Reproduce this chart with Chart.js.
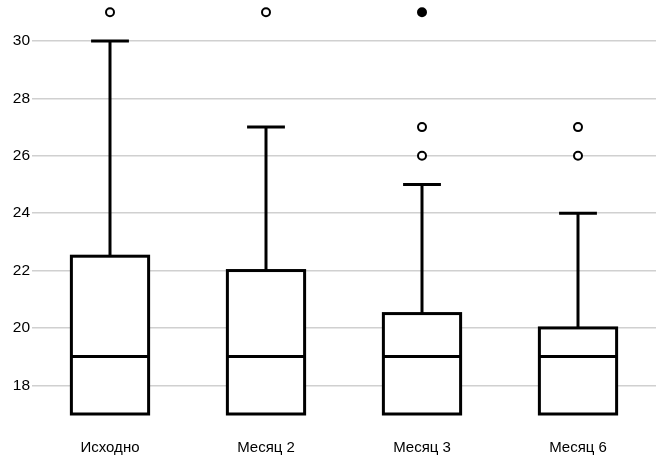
<!DOCTYPE html>
<html>
<head>
<meta charset="utf-8">
<script src="https://cdn.jsdelivr.net/npm/chart.js@4/dist/chart.umd.min.js"></script>
<style>
html,body{margin:0;padding:0;background:#fff;}
#wrap{width:663px;height:456px;position:relative;}
</style>
</head>
<body>
<div id="wrap"><canvas id="c"></canvas></div>
<script>
const categories = ['Исходно', 'Месяц 2', 'Месяц 3', 'Месяц 6'];
const whiskerLow = [17, 17, 17, 17];
const q1 = [17, 17, 17, 17];
const median = [19, 19, 19, 19];
const q3 = [22.5, 22, 20.5, 20];
const whiskerHigh = [30, 27, 25, 24];
const outlierCategory = ['Исходно', 'Месяц 2', 'Месяц 3', 'Месяц 3', 'Месяц 3', 'Месяц 6', 'Месяц 6'];
const outlierValue = [31, 31, 31, 27, 26, 27, 26];
const outlierFilled = [false, false, true, false, false, false, false];
const yTicks = [18, 20, 22, 24, 26, 28, 30];

const boxPlugin = {
  id: 'boxParts',
  beforeDatasetsDraw(chart) {
    const ctx = chart.ctx, x = chart.scales.x, y = chart.scales.y;
    const bars = chart.getDatasetMeta(0).data;
    ctx.save();
    ctx.strokeStyle = '#000';
    ctx.lineWidth = 3;
    ctx.lineCap = 'butt';
    categories.forEach((c, i) => {
      const cx = x.getPixelForValue(i);
      const cap = bars[i].width * 0.49;
      [[q3[i], whiskerHigh[i]], [q1[i], whiskerLow[i]]].forEach(([a, b]) => {
        if (a === b) return;
        ctx.beginPath();
        ctx.moveTo(cx, y.getPixelForValue(a));
        ctx.lineTo(cx, y.getPixelForValue(b));
        ctx.stroke();
        ctx.beginPath();
        ctx.moveTo(cx - cap / 2, y.getPixelForValue(b));
        ctx.lineTo(cx + cap / 2, y.getPixelForValue(b));
        ctx.stroke();
      });
    });
    ctx.restore();
  },
  afterDatasetDraw(chart, args) {
    if (args.index !== 0) return;
    const ctx = chart.ctx, y = chart.scales.y;
    const bars = chart.getDatasetMeta(0).data;
    ctx.save();
    ctx.strokeStyle = '#000';
    ctx.lineWidth = 3;
    ctx.lineJoin = 'miter';
    categories.forEach((c, i) => {
      const b = bars[i];
      const left = b.x - b.width / 2, right = b.x + b.width / 2;
      const top = y.getPixelForValue(q3[i]), bottom = y.getPixelForValue(q1[i]);
      ctx.strokeRect(left, top, right - left, bottom - top);
      const py = y.getPixelForValue(median[i]);
      ctx.beginPath();
      ctx.moveTo(left, py);
      ctx.lineTo(right, py);
      ctx.stroke();
    });
    ctx.restore();
  }
};

new Chart(document.getElementById('c'), {
  type: 'bar',
  data: {
    labels: categories,
    datasets: [
      {
        type: 'bar',
        data: categories.map((c, i) => [q1[i], q3[i]]),
        backgroundColor: '#fff',
        borderWidth: 0,
        barPercentage: 0.495,
        categoryPercentage: 1,
        clip: false,
        order: 2
      },
      {
        type: 'line',
        data: outlierCategory.map((c, i) => ({x: c, y: outlierValue[i]})),
        showLine: false,
        pointRadius: 4,
        pointBorderWidth: 2,
        pointBorderColor: '#000',
        pointBackgroundColor: outlierFilled.map(f => f ? '#000' : '#fff'),
        clip: false,
        order: 1
      }
    ]
  },
  options: {
    responsive: true,
    maintainAspectRatio: false,
    animation: false,
    layout: {autoPadding: false, padding: {left: 0, right: 7, top: 0, bottom: 0}},
    plugins: {legend: {display: false}, tooltip: {enabled: false}},
    scales: {
      x: {
        afterFit: s => { s.height = 42; s.paddingLeft = 0; s.paddingRight = 0; },
        grid: {display: false, drawTicks: false},
        border: {display: false},
        ticks: {color: '#000', padding: 24.5, font: {family: 'Liberation Sans, Arial, sans-serif', size: 15}}
      },
      y: {
        min: 17,
        max: 31.43,
        afterFit: s => { s.width = 32; s.paddingTop = 0; s.paddingBottom = 0; },
        afterBuildTicks: axis => { axis.ticks = yTicks.map(v => ({value: v})); },
        grid: {color: '#d0d0d0', lineWidth: 1.5, drawTicks: false},
        border: {display: false},
        ticks: {color: '#000', padding: 2, font: {family: 'Liberation Sans, Arial, sans-serif', size: 15.5}}
      }
    }
  },
  plugins: [boxPlugin]
});
</script>
</body>
</html>
